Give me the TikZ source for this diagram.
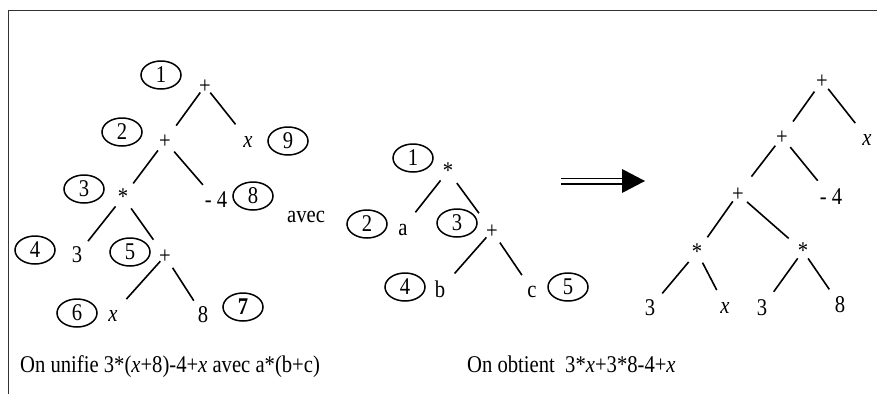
\documentclass[tikz,border=0pt]{standalone}
\usepackage{fontspec}
\setmainfont{Liberation Serif}[FakeStretch=0.86]
\usetikzlibrary{shapes.geometric}
\begin{document}
\begin{tikzpicture}[x=1pt,y=-1pt,
  every node/.style={font=\fontsize{24}{28}\selectfont, inner sep=0pt},
  lbl/.style={text height=14pt, text depth=0pt},
  num/.style={ellipse, draw, line width=1.5pt, minimum width=40pt, minimum height=28pt},
  edge/.style={line width=1.6pt}]
\useasboundingbox (0,0) rectangle (877,394);
\draw[line width=1.6pt, black!80] (8.5,394) -- (8.5,10.5) -- (877,10.5);

% ---- tree 1
\node[lbl] (p1) at (205,86) {+};
\node[lbl] (p2) at (165,141) {+};
\node[lbl] (x9) at (248,140) {\textit{x}};
\node[lbl] (s3) at (123,197) {*};
\node[lbl] (m4) at (216,200) {- 4};
\node[lbl] (t3) at (77,255) {3};
\node[lbl] (p5) at (165,256) {+};
\node[lbl] (x6) at (113,314) {\textit{x}};
\node[lbl] (e8) at (203,315) {8};
\node[num] (c1) at (161,75) {1};
\node[num] (c2) at (122,132) {2};
\node[num] (c3) at (84,189) {3};
\node[num] (c4) at (35,250) {4};
\node[num] (c5) at (130,252) {5};
\node[num] (c6) at (77,313) {6};
\node[num] (c7) at (243,307) {\textbf{7}};
\node[num] (c8) at (253,196) {8};
\node[num] (c9) at (288,141) {9};
\foreach \a/\b/\s/\e in {p1/p2/8pt/19pt, p1/x9/8.5pt/20pt, p2/s3/11.7pt/17pt, p2/m4/14pt/20pt,
  s3/t3/12pt/17.7pt, s3/p5/14pt/20pt, p5/x6/7pt/20pt, p5/e8/14pt/17pt}
  \draw[edge, shorten <=\s, shorten >=\e] (\a.center) -- (\b.center);

\node[anchor=base west] (avec) at (287,222) {avec};

% ---- tree 2
\node[lbl] (q1) at (448,171) {*};
\node[lbl] (qa) at (403,228) {a};
\node[lbl] (q3) at (492,231) {+};
\node[lbl] (qb) at (440,290) {b};
\node[lbl] (qc) at (532,290) {c};
\node[num] (d1) at (413,158) {1};
\node[num] (d2) at (367,224) {2};
\node[num] (d3) at (457,223) {3};
\node[num] (d4) at (405,287) {4};
\node[num] (d5) at (568,287) {5};
\foreach \a/\b/\s/\e in {q1/qa/12pt/20pt, q1/q3/15pt/22pt, q3/qb/8.5pt/22pt, q3/qc/14pt/18pt}
  \draw[edge, shorten <=\s, shorten >=\e] (\a.center) -- (\b.center);

% ---- arrow
\coordinate (aS) at (561,181);
\coordinate (aE) at (622,181);
\draw[line width=1.7pt, double distance=3.6pt] (aS) -- (aE);
\fill (aE) ++(0,-12) -- ++(23,12) -- ++(-23,12) -- cycle;

% ---- tree 3
\node[lbl] (r1) at (822,81) {+};
\node[lbl] (rx) at (867,138) {\textit{x}};
\node[lbl] (r2) at (782,137) {+};
\node[lbl] (rm) at (831,197) {- 4};
\node[lbl] (r3) at (738,194) {+};
\node[lbl] (sl) at (697,252) {*};
\node[lbl] (sr) at (803,251) {*};
\node[lbl] (la) at (650,308) {3};
\node[lbl] (lx) at (725,306) {\textit{x}};
\node[lbl] (lb) at (762,308) {3};
\node[lbl] (l8) at (840,305) {8};
\foreach \a/\b/\s/\e in {r1/r2/13pt/19pt, r1/rx/10pt/19pt, r2/r3/11pt/22pt, r2/rm/13pt/21pt,
  r3/sl/9pt/18pt, r3/sr/12pt/19pt, sl/la/13pt/19pt, sl/lx/12pt/18pt, sr/lb/9pt/20pt, sr/l8/9pt/19pt}
  \draw[edge, shorten <=\s, shorten >=\e] (\a.center) -- (\b.center);

% ---- captions
\node[anchor=base west] (t1) at (20,372) {On unifie 3*(\textit{x}+8)-4+\textit{x} avec a*(b+c)};
\node[anchor=base west] (t2) at (467,372) {On obtient\ \ 3*\textit{x}+3*8-4+\textit{x}};
\end{tikzpicture}
\end{document}
